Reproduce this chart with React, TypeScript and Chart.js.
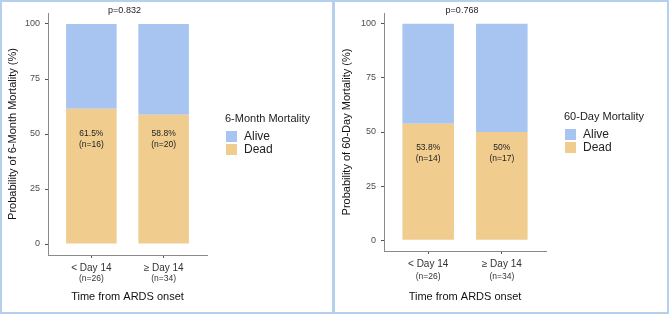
import React, { useEffect, useRef } from 'react';
import { Chart, registerables } from 'chart.js';

Chart.register(...registerables);

// ---- data ----
const groups = ['< Day 14', '≥ Day 14'];
const groupN = [26, 34];
const yTicks = [0, 25, 50, 75, 100];

const dead6m = [61.5, 58.8];
const alive6m = [38.5, 41.2];
const deadN6m = [16, 20];
const p6m = 'p=0.832';

const dead60d = [53.8, 50];
const alive60d = [46.2, 50];
const deadN60d = [14, 17];
const p60d = 'p=0.768';

const DEAD = '#f0cd8f';
const ALIVE = '#a8c5f1';
const FONT = "'Liberation Sans', Arial, Helvetica, sans-serif";

const annotPlugin = {
  id: 'annot',
  afterDatasetsDraw(chart: any, _args: any, opts: any) {
    const { ctx, chartArea: ca, scales } = chart;
    const x = scales.x;
    const y = scales.y;
    ctx.save();
    ctx.textAlign = 'center';
    ctx.textBaseline = 'middle';
    // p value
    ctx.fillStyle = '#222';
    ctx.font = `9px ${FONT}`;
    ctx.fillText(opts.pText, (ca.left + ca.right) / 2 - 3, ca.top - 2.5);
    // bar labels
    const deadDs = chart.data.datasets[0].data;
    deadDs.forEach((d: any, i: number) => {
      const px = x.getPixelForValue(d.x);
      const py = y.getPixelForValue(opts.labelAt);
      ctx.font = `8.5px ${FONT}`;
      ctx.fillText(`${d.y}%`, px, py - 5.5);
      ctx.fillText(`(n=${opts.deadN[i]})`, px, py + 5.5);
    });
    // group sizes under tick labels
    ctx.fillStyle = '#333';
    ctx.font = `8.5px ${FONT}`;
    groupN.forEach((n, i) => {
      ctx.fillText(`(n=${n})`, x.getPixelForValue(i + 1), ca.bottom + opts.nOffset);
    });
    // legend
    const cy = (ca.top + ca.bottom) / 2;
    const lx = ca.right + 18;
    ctx.textAlign = 'left';
    ctx.fillStyle = '#222';
    ctx.font = `11px ${FONT}`;
    ctx.fillText(opts.legendTitle, lx, cy - 15);
    const items = [...chart.data.datasets].reverse();
    items.forEach((ds: any, k: number) => {
      const top = cy - 3 + k * 13;
      ctx.fillStyle = ds.backgroundColor;
      ctx.fillRect(lx + 1, top, 11, 11);
      ctx.fillStyle = '#222';
      ctx.font = `12px ${FONT}`;
      ctx.fillText(ds.label, lx + 19, top + 6);
    });
    ctx.restore();
  },
};

function MortalityChart(props: any) {
  const ref = useRef<HTMLCanvasElement>(null);
  useEffect(() => {
    const {
      dead, alive, deadN, pText, yTitle, legendTitle, labelAt,
      yWidth, xHeight, padRight, nOffset, yTitlePad,
    } = props;
    const chart = new Chart(ref.current as HTMLCanvasElement, {
      type: 'bar',
      data: {
        datasets: [
          { label: 'Dead', data: dead.map((v: number, i: number) => ({ x: i + 1, y: v })), backgroundColor: DEAD },
          { label: 'Alive', data: alive.map((v: number, i: number) => ({ x: i + 1, y: v })), backgroundColor: ALIVE },
        ],
      } as any,
      options: {
        animation: false,
        responsive: false,
        devicePixelRatio: 1,
        layout: { padding: { top: 13, right: padRight, bottom: 0, left: 0 } },
        datasets: { bar: { categoryPercentage: 1, barPercentage: 0.7, borderWidth: 0 } },
        plugins: {
          legend: { display: false },
          tooltip: { enabled: false },
          annot: { pText, deadN, labelAt, legendTitle, nOffset },
        },
        scales: {
          x: {
            type: 'linear',
            stacked: true,
            offset: false,
            min: 0.4,
            max: 2.6,
            afterBuildTicks: (s: any) => { s.ticks = groups.map((_, i) => ({ value: i + 1 })); },
            afterFit: (s: any) => { s.height = xHeight; },
            grid: { offset: false, drawOnChartArea: false, drawTicks: true, tickLength: 3, color: '#555' },
            border: { display: true, color: '#8a8a8a', width: 1 },
            ticks: {
              callback: (_v: any, i: number) => groups[i],
              padding: 4,
              autoSkip: false,
              maxRotation: 0,
              color: '#333',
              font: { family: FONT, size: 10 },
            },
            title: {
              display: true,
              text: 'Time from ARDS onset',
              color: '#111',
              font: { family: FONT, size: 11 },
              padding: { top: 0, bottom: 10 },
            },
          },
          y: {
            type: 'linear',
            stacked: true,
            min: -5,
            max: 105,
            afterBuildTicks: (s: any) => { s.ticks = yTicks.map((v) => ({ value: v })); },
            afterFit: (s: any) => { s.width = yWidth; },
            grid: { drawOnChartArea: false, drawTicks: true, tickLength: 3, color: '#555' },
            border: { display: true, color: '#8a8a8a', width: 1 },
            ticks: {
              padding: 5,
              color: '#4d4d4d',
              font: { family: FONT, size: 9 },
            },
            title: {
              display: true,
              text: yTitle,
              color: '#111',
              font: { family: FONT, size: 11 },
              padding: { top: yTitlePad, bottom: 0 },
            },
          },
        },
      } as any,
      plugins: [annotPlugin as any],
    });
    return () => chart.destroy();
  }, []);
  return <canvas ref={ref} width={props.width} height={314} style={{ display: 'block' }} />;
}

export default function App() {
  return (
    <div style={{ position: 'absolute', left: 0, top: 0, width: 669, height: 314, background: '#fff', overflow: 'hidden' }}>
      <div style={{ position: 'absolute', left: 0, top: 0 }}>
        <MortalityChart
          width={332}
          dead={dead6m}
          alive={alive6m}
          deadN={deadN6m}
          pText={p6m}
          yTitle="Probability of 6-Month Mortality (%)"
          legendTitle="6-Month Mortality"
          labelAt={47.8}
          yWidth={48}
          xHeight={59}
          padRight={125}
          nOffset={24}
          yTitlePad={6}
        />
      </div>
      <div style={{ position: 'absolute', left: 335, top: 0 }}>
        <MortalityChart
          width={334}
          dead={dead60d}
          alive={alive60d}
          deadN={deadN60d}
          pText={p60d}
          yTitle="Probability of 60-Day Mortality (%)"
          legendTitle="60-Day Mortality"
          labelAt={40.4}
          yWidth={49}
          xHeight={63}
          padRight={123}
          nOffset={26}
          yTitlePad={5}
        />
      </div>
      <div style={{ position: 'absolute', left: 0, top: 0, width: 669, height: 314, border: '2px solid #b5cfee', boxSizing: 'border-box', pointerEvents: 'none' }} />
      <div style={{ position: 'absolute', left: 332, top: 0, width: 3, height: 314, background: '#b5cfee', pointerEvents: 'none' }} />
    </div>
  );
}
